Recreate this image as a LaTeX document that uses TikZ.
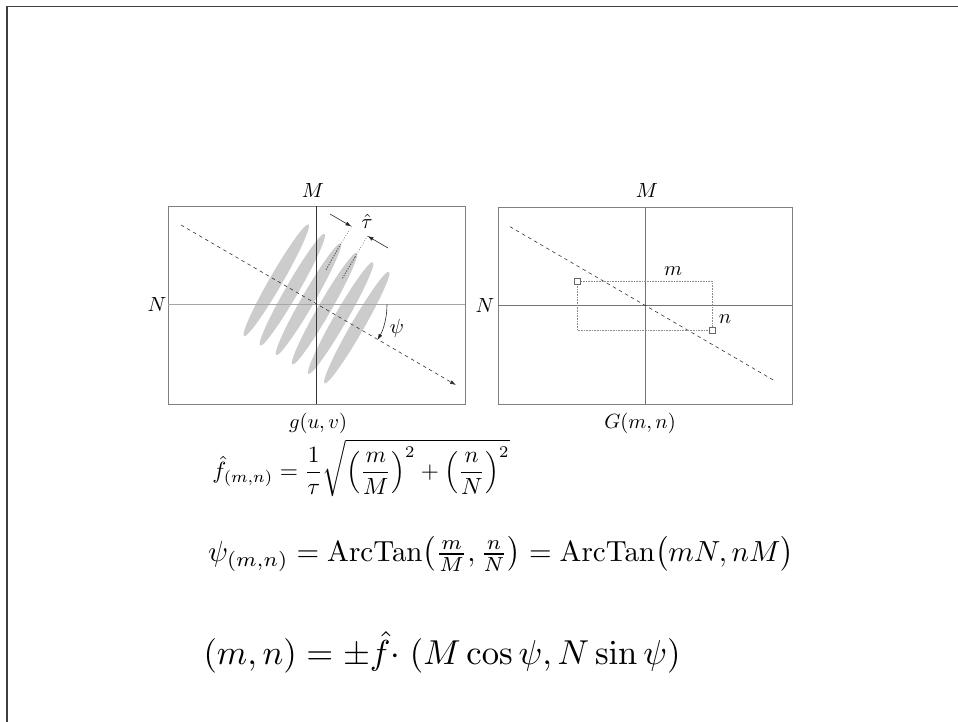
\documentclass[tikz,border=0pt]{standalone}
\usepackage{amsmath}
\usetikzlibrary{arrows.meta}
\definecolor{ellgray}{gray}{0.8}
\begin{document}
\begin{tikzpicture}[x=1pt,y=-1pt,
  lbl/.style={inner sep=0pt, scale=2.05, transform shape},
  boxline/.style={draw=black!50, line width=0.8pt},
  dashline/.style={draw=black!80, line width=0.6pt, dash pattern=on 3.5pt off 3.5pt},
  thinline/.style={draw=black!85, line width=0.6pt},
  tip/.style={-{Latex[length=6pt,width=4pt]}},
  sq/.style={draw=black!60, fill=white, line width=0.6pt, minimum size=6pt, inner sep=0pt},
  eq/.style={inner sep=0pt, transform shape}]
\useasboundingbox (0,0) rectangle (958,721);
\fill[white] (0,0) rectangle (958,721);
\draw[black!75, line width=1.5pt] (7,722) -- (7,6.5) -- (959,6.5);

% ---------- left panel ----------
\foreach \k in {-2.5,-1.5,-0.5,0.5,1.5,2.5}{
  \pgfmathsetmacro{\cx}{316.5+16.1*\k}
  \pgfmathsetmacro{\cy}{303.9+9.45*\k}
  \fill[ellgray, rotate around={60:(\cx,\cy)}] (\cx,\cy) ellipse [x radius=64.5pt, y radius=6.5pt];
}
\draw[boxline] (168,206) rectangle (465,404);
\draw[black!35, line width=1.5pt] (168,304.5) -- (465,304.5);
\draw[black!80, line width=0.8pt] (316,206) -- (316,404);

\coordinate (ld1) at (181,225);
\coordinate (ld2) at (456,385);
\draw[dashline, tip] (ld1) -- (ld2);

\coordinate (ta1) at (330,214);
\coordinate (ta2) at (351.5,226.5);
\coordinate (tb1) at (388,248);
\coordinate (tb2) at (367.5,236);
\coordinate (da) at (339.5,246);
\coordinate (da2) at (326,270);
\coordinate (db) at (355,257);
\coordinate (db2) at (342,279);
\draw[thinline, tip] (ta1) -- (ta2);
\draw[thinline, tip] (tb1) -- (tb2);
\draw[black!75, line width=0.6pt, dotted] (ta2) -- (da);
\draw[black!65, line width=0.9pt, dash pattern=on 1.3pt off 1.3pt] (da) -- (da2);
\draw[black!75, line width=0.6pt, dotted] (tb2) -- (db);
\draw[black!65, line width=0.9pt, dash pattern=on 1.3pt off 1.3pt] (db) -- (db2);

\coordinate (ps1) at (387,304.5);
\draw[thinline, tip] (ps1) arc[start angle=0, end angle=-30, radius=71pt];

\node[lbl] (tau) at (367,221) {$\hat{\tau}$};
\node[lbl] (psi) at (397,328) {$\psi$};
\node[lbl] (M1) at (313,190) {$M$};
\node[lbl] (N1) at (157,304) {$N$};
\node[lbl] (g) at (318,423) {$g(u,v)$};

% ---------- right panel ----------
\draw[boxline] (498,207.5) rectangle (792,404);
\draw[black!55, line width=1pt] (645,207.5) -- (645,404);
\draw[black!55, line width=1pt] (498,305.5) -- (792,305.5);
\coordinate (rd1) at (510,226.7);
\coordinate (rd2) at (775,381);
\draw[dashline] (rd1) -- (rd2);
\draw[black!45, line width=0.6pt, densely dotted] (577,281) rectangle (712,330);
\node[sq] (s1) at (577,281) {};
\node[sq] (s2) at (712,330) {};
\node[lbl] (mlab) at (673,271) {$m$};
\node[lbl] (nlab) at (725,319) {$n$};
\node[lbl] (M2) at (647,190) {$M$};
\node[lbl] (N2) at (485,305) {$N$};
\node[lbl] (G) at (640,423) {$G(m,n)$};

% ---------- formulas ----------
\node[eq, scale=2.34] (f1) at (361,468)
  {$\displaystyle \hat{f}_{(m,n)}=\frac{1}{\tau}\sqrt{\left(\frac{m}{M}\right)^{2}+\left(\frac{n}{N}\right)^{2}}$};
\node[eq, scale=2.906] (f2) at (501,554)
  {$\psi_{(m,n)}=\mathrm{ArcTan}\bigl(\tfrac{m}{M},\tfrac{n}{N}\bigr)=\mathrm{ArcTan}\bigl(mN,nM\bigr)$};
\node[eq, scale=3.46] (f3) at (442,652)
  {$(m,n)=\pm\hat{f}{\cdot}\;(M\cos\psi,N\sin\psi)$};
\end{tikzpicture}
\end{document}
